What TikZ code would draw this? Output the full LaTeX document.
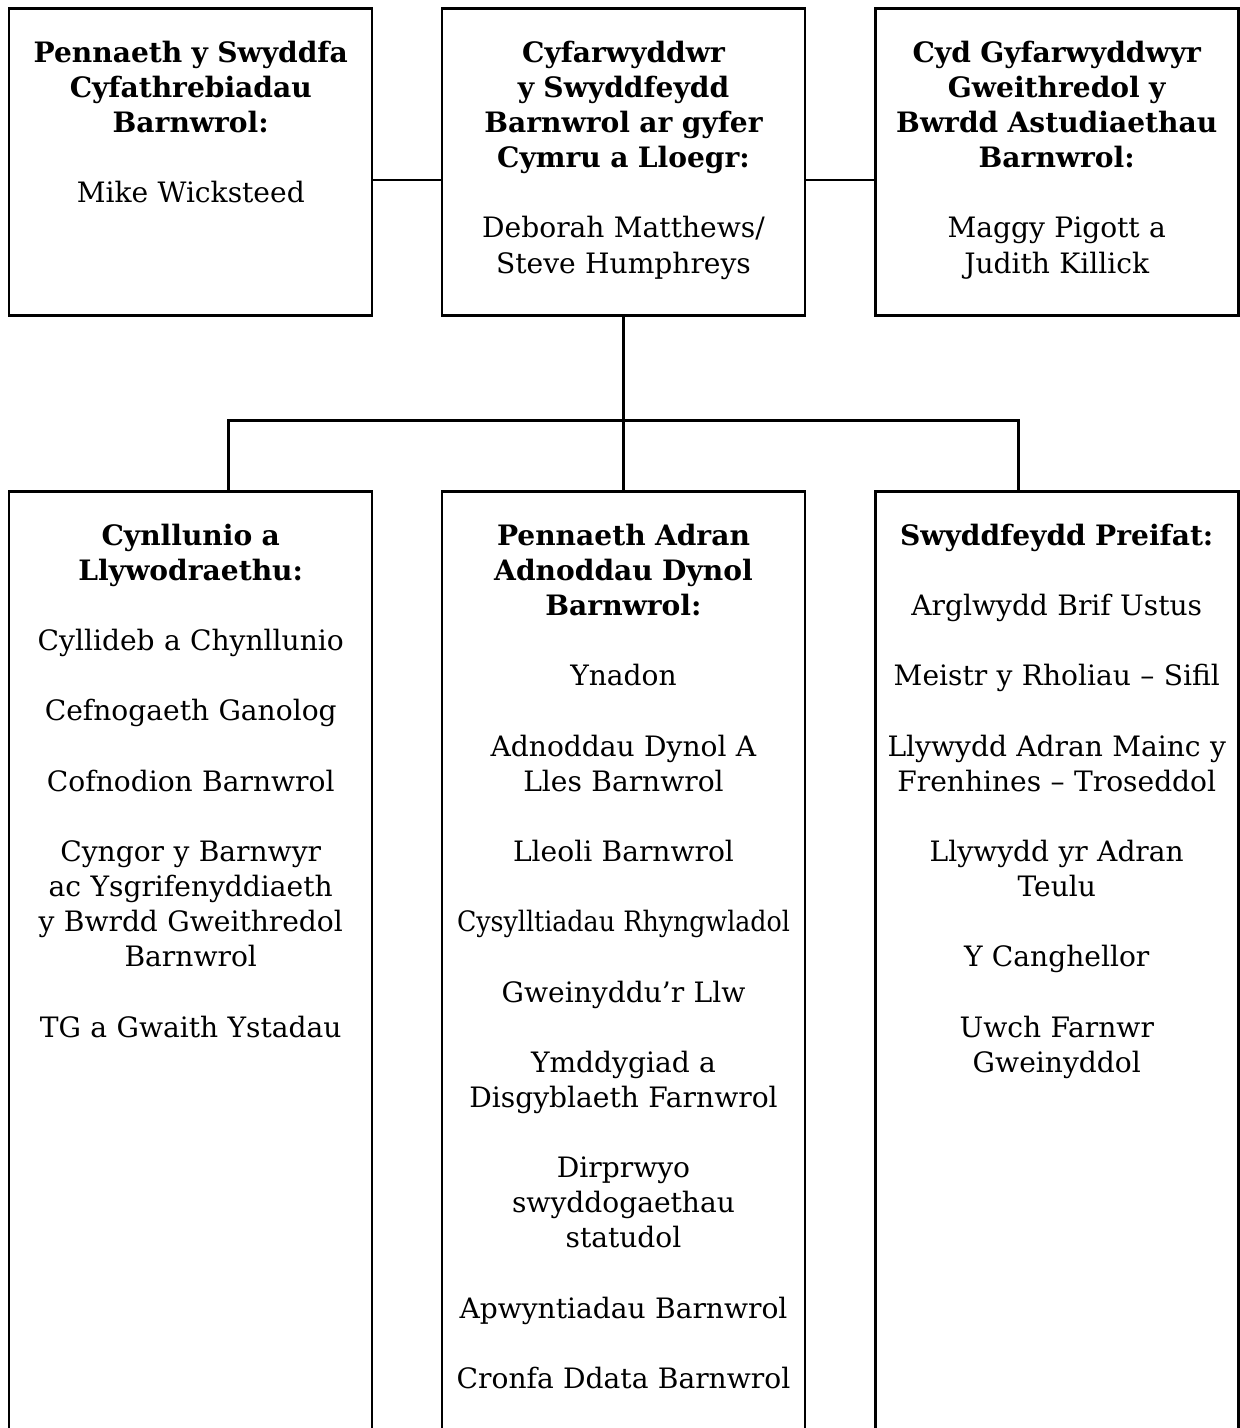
\documentclass[tikz,border=0pt]{standalone}
\usepackage{fontspec}
\usepackage{graphicx}
\setmainfont{DejaVu Serif}
\usetikzlibrary{positioning}
\tikzset{
  % outlined boxes of the chart
  box/.style={draw, line width=1.5pt, rectangle, inner sep=0pt, outer sep=0pt,
    anchor=north west, minimum width=7.26cm},
  topbox/.style={box, minimum height=6.14cm},
  lowbox/.style={box, minimum height=20cm},
  % text in the boxes
  txt/.style={align=center, anchor=north, inner sep=0pt, text width=7.1cm,
    font=\fontsize{16}{20}\selectfont},
  link/.style={line width=1.4pt},
}
\newcommand{\gap}{\\[20pt]}
\begin{document}
\begin{tikzpicture}[x=0.02cm, y=-0.02cm]
  \clip (0,0) rectangle (1240,1428);
  \fill[white] (0,0) rectangle (1240,1428);

  % top row
  \node[topbox] (hcom) at (9,8.5) {};
  \node[topbox] (dir) at (442,8.5) {};
  \node[topbox] (jsb) at (875.5,8.5) {};

  % bottom row
  \node[lowbox] (plan) at (9,491.5) {};
  \node[lowbox] (hr) at (442,491.5) {};
  \node[lowbox] (priv) at (875.5,491.5) {};

  \node[txt] (hcom-t) at (190.75,40.5) {{\bfseries Pennaeth y Swyddfa\\
    Cyfathrebiadau\\ Barnwrol:}\gap Mike Wicksteed};
  \node[txt] (dir-t) at (623.5,40.5) {{\bfseries Cyfarwyddwr\\ y Swyddfeydd\\
    Barnwrol ar gyfer\\ Cymru a Lloegr:}\gap Deborah Matthews/\\ Steve Humphreys};
  \node[txt] (jsb-t) at (1056.75,40.5) {{\bfseries Cyd Gyfarwyddwyr\\
    Gweithredol y\\ Bwrdd Astudiaethau\\ Barnwrol:}\gap Maggy Pigott a\\ Judith Killick};

  \node[txt] (plan-t) at (190.75,523.5) {{\bfseries Cynllunio a\\ Llywodraethu:}\gap
    Cyllideb a Chynllunio\gap Cefnogaeth Ganolog\gap Cofnodion Barnwrol\gap
    Cyngor y Barnwyr\\ ac Ysgrifenyddiaeth\\ y Bwrdd Gweithredol\\ Barnwrol\gap
    TG a Gwaith Ystadau};
  \node[txt] (hr-t) at (623.5,523.5) {{\bfseries Pennaeth Adran\\ Adnoddau Dynol\\
    Barnwrol:}\gap Ynadon\gap Adnoddau Dynol A\\ Lles Barnwrol\gap
    Lleoli Barnwrol\gap \scalebox{0.9}[1]{Cysylltiadau Rhyngwladol}\gap
    Gweinyddu’r Llw\gap Ymddygiad a\\ Disgyblaeth Farnwrol\gap
    Dirprwyo\\ swyddogaethau\\ statudol\gap Apwyntiadau Barnwrol\gap
    Cronfa Ddata Barnwrol};
  \node[txt] (priv-t) at (1056.75,523.5) {{\bfseries Swyddfeydd Preifat:}\gap
    Arglwydd Brif Ustus\gap Meistr y Rholiau – Sifil\gap
    Llywydd Adran Mainc y\\ Frenhines – Troseddol\gap
    Llywydd yr Adran\\ Teulu\gap Y Canghellor\gap Uwch Farnwr\\ Gweinyddol};

  % connectors
  \coordinate (side) at (0,180);
  \coordinate (busl) at (228.3,420.6);
  \coordinate (busr) at (1018.3,420.6);
  \draw[link] (hcom.east |- side) -- (dir.west |- side);
  \draw[link] (dir.east |- side) -- (jsb.west |- side);
  \draw[link] (dir.south) -- (hr.north);
  \draw[link] (busl |- plan.north) -- (busl) -- (busr) -- (busr |- priv.north);
\end{tikzpicture}
\end{document}
